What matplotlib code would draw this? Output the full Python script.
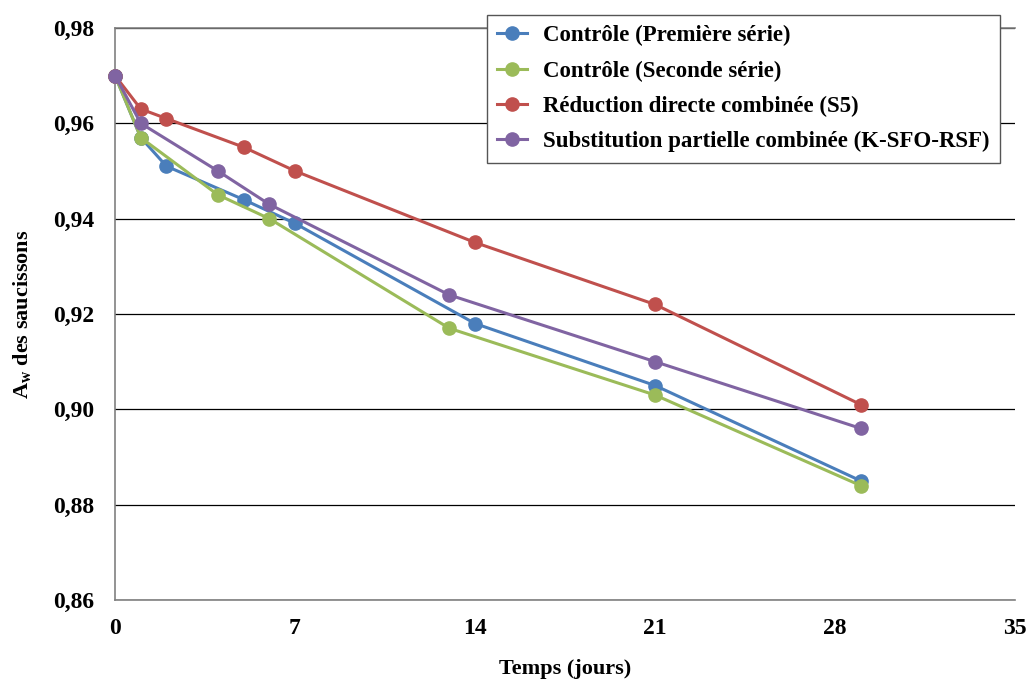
import matplotlib.pyplot as plt
from matplotlib.ticker import FuncFormatter

# Données
jours_s1 = [0, 1, 2, 5, 7, 14, 21, 29]
aw_controle_1 = [0.970, 0.957, 0.951, 0.944, 0.939, 0.918, 0.905, 0.885]
aw_reduction = [0.970, 0.963, 0.961, 0.955, 0.950, 0.935, 0.922, 0.901]

jours_s2 = [0, 1, 4, 6, 13, 21, 29]
aw_controle_2 = [0.970, 0.957, 0.945, 0.940, 0.917, 0.903, 0.884]
aw_substitution = [0.970, 0.960, 0.950, 0.943, 0.924, 0.910, 0.896]

labels = ["Contrôle (Première série)", "Contrôle (Seconde série)",
          "Réduction directe combinée (S5)",
          "Substitution partielle combinée (K-SFO-RSF)"]
colors = ["#4A7EBB", "#9BBB59", "#C0504D", "#8064A2"]

x_ticks = [0, 7, 14, 21, 28, 35]
y_ticks = [0.86, 0.88, 0.90, 0.92, 0.94, 0.96, 0.98]

plt.rcParams['font.family'] = ['Liberation Serif', 'DejaVu Serif']
plt.rcParams['font.weight'] = 'bold'

fig = plt.figure(figsize=(10.3, 6.79), dpi=100)
ax = fig.add_axes([0.1117, 0.1163, 0.8738, 0.8425])

series = [(jours_s1, aw_controle_1), (jours_s2, aw_controle_2),
          (jours_s1, aw_reduction), (jours_s2, aw_substitution)]
for (x, y), lab, c in zip(series, labels, colors):
    ax.plot(x, y, color=c, lw=2.2, marker='o', ms=9.5, label=lab, clip_on=False, zorder=3)

ax.set_xlim(0, 35)
ax.set_ylim(0.86, 0.98)
ax.set_xticks(x_ticks)
ax.set_yticks(y_ticks)
ax.yaxis.set_major_formatter(FuncFormatter(lambda v, p: f"{v:.2f}".replace('.', ',')))
ax.tick_params(labelsize=17, length=0)
ax.tick_params(axis='y', pad=15)
ax.tick_params(axis='x', pad=13)
ax.grid(axis='y', color='black', lw=0.9)
ax.set_axisbelow(True)
ax.spines['right'].set_visible(False)
for s in ['left', 'bottom', 'top']:
    ax.spines[s].set_color('#808080')
    ax.spines[s].set_linewidth(1.2)

ax.set_xlabel("Temps (jours)", fontsize=16, fontweight='bold', labelpad=14)
ax.set_ylabel(r"A$_\mathregular{w}$ des saucissons", fontsize=16, fontweight='bold', labelpad=14)

leg = ax.legend(loc='upper right', bbox_to_anchor=(0.983, 1.023), borderaxespad=0,
                fontsize=16.5, frameon=True, fancybox=False, edgecolor='#555555',
                framealpha=1, handlelength=1.3, handletextpad=0.7, borderpad=0.45,
                labelspacing=0.62)
leg.get_frame().set_linewidth(1.0)

fig.savefig("out.png", dpi=100)
